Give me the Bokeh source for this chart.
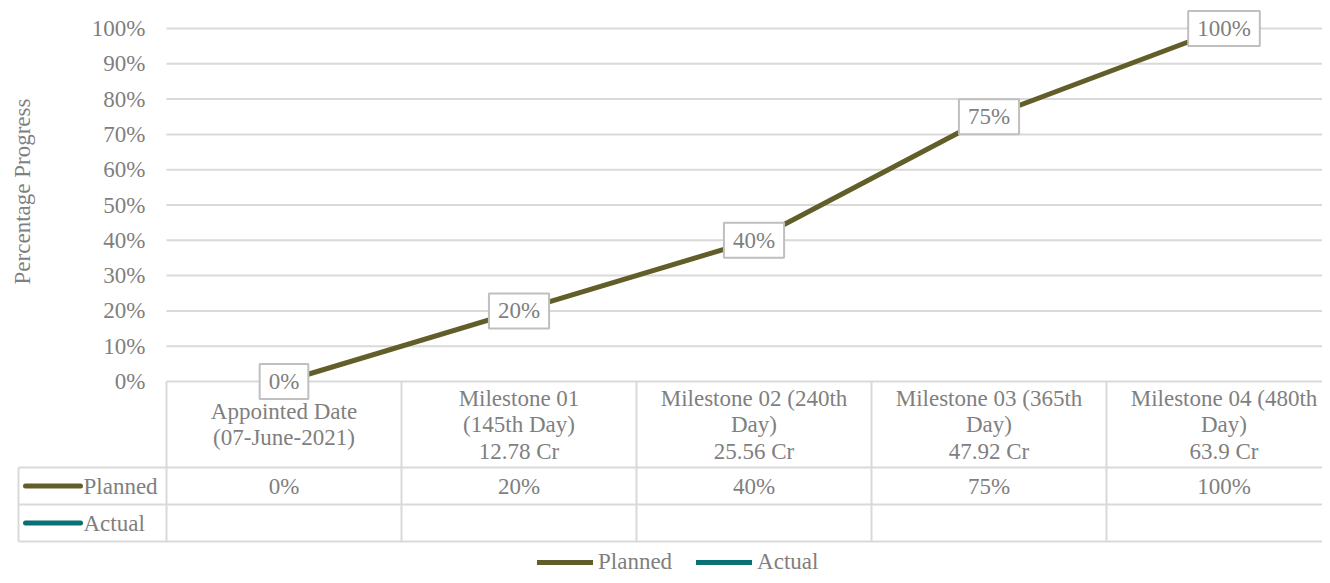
import math
from bokeh.plotting import figure
from bokeh.models import (Range1d, FixedTicker, NumeralTickFormatter, Legend, LegendItem,
                          ColumnDataSource, Label, LinearAxis)
from bokeh.embed import file_html
from bokeh.resources import INLINE
from bokeh.core.properties import value

# ---------------- data ----------------
categories = [
    "Appointed Date\n(07-June-2021)",
    "Milestone 01\n(145th Day)\n12.78 Cr",
    "Milestone 02 (240th\nDay)\n25.56 Cr",
    "Milestone 03 (365th\nDay)\n47.92 Cr",
    "Milestone 04 (480th\nDay)\n63.9 Cr",
]
series_names = ["Planned", "Actual"]
planned = [0.00, 0.20, 0.40, 0.75, 1.00]
actual = [float("nan")] * 5
planned_labels = ["0%", "20%", "40%", "75%", "100%"]
actual_labels = ["", "", "", "", ""]
y_ticks = [0.0, 0.1, 0.2, 0.3, 0.4, 0.5, 0.6, 0.7, 0.8, 0.9, 1.0]
y_title = "Percentage Progress"

# ---------------- style ----------------
FONT = "Liberation Serif"
FS = "23px"
TXT = "#7f7f7f"
GRID = "#d9d9d9"
C_PLAN = "#625e2a"
C_ACT = "#0b6f76"

W, H = 1322, 575
n = len(categories)
xc = [i + 0.5 for i in range(n)]

# layout geometry in canvas pixels
COL, X0 = 235.0, 166.0          # column width, left edge of first column
PPU, Y0 = 353.0, 381.0          # pixels per 100%, canvas y of 0%
def xu(px):
    return (px - X0) / COL
def yu(py):
    return (Y0 - py) / PPU

p = figure(width=W, height=H, output_backend="svg", toolbar_location=None,
           x_range=Range1d(xu(0), xu(W)), y_range=Range1d(yu(H), yu(0)),
           min_border=0, x_axis_location=None, y_axis_location=None)
p.outline_line_color = None
p.background_fill_color = "white"
p.border_fill_color = "white"
p.grid.visible = False

# y axis drawn at the left edge of the first column
ya = LinearAxis(fixed_location=0, ticker=FixedTicker(ticks=y_ticks),
                formatter=NumeralTickFormatter(format="0%"))
ya.axis_line_color = None
ya.major_tick_line_color = None
ya.minor_tick_line_color = None
ya.major_tick_out = 0
ya.major_tick_in = 0
ya.minor_tick_out = 0
ya.major_label_text_font = FONT
ya.major_label_text_font_size = FS
ya.major_label_text_color = TXT
ya.major_label_standoff = 21
p.add_layout(ya, "left")

# horizontal gridlines over the chart columns
p.segment(x0=[0] * len(y_ticks), y0=y_ticks, x1=[n] * len(y_ticks), y1=y_ticks,
          line_color=GRID, line_width=2)

# y-axis title
p.add_layout(Label(x=xu(22), y=yu(191), text=y_title, angle=math.pi / 2,
                   text_font=FONT, text_font_size=FS, text_color=TXT,
                   text_align="center", text_baseline="middle"))

# ---------------- data table under the chart ----------------
HDR_B, ROW1_B, ROW2_B = 467.0, 504.0, 541.0
xl = xu(18)
p.segment(x0=list(range(n + 1)), y0=[0] * (n + 1), x1=list(range(n + 1)),
          y1=[yu(ROW2_B)] * (n + 1), line_color=GRID, line_width=2)
p.segment(x0=[xl, xl, xl, xl], y0=[yu(HDR_B), yu(ROW1_B), yu(ROW2_B), yu(HDR_B)],
          x1=[n, n, n, xl], y1=[yu(HDR_B), yu(ROW1_B), yu(ROW2_B), yu(ROW2_B)],
          line_color=GRID, line_width=2)

p.text(x=xc, y=[yu(424.0)] * n, text=categories, text_font=value(FONT), text_font_size=FS,
       text_color=TXT, text_align="center", text_baseline="middle", text_line_height=1.06)

r1 = yu((HDR_B + ROW1_B) / 2)
r2 = yu((ROW1_B + ROW2_B) / 2)
p.text(x=xc, y=[r1] * n, text=planned_labels, text_font=value(FONT), text_font_size=FS,
       text_color=TXT, text_align="center", text_baseline="middle")
p.text(x=xc, y=[r2] * n, text=actual_labels, text_font=value(FONT), text_font_size=FS,
       text_color=TXT, text_align="center", text_baseline="middle")

# row keys in the first table column
p.segment(x0=[xu(25)] * 2, y0=[r1, r2], x1=[xu(80)] * 2, y1=[r1, r2],
          line_color=[C_PLAN, C_ACT], line_width=5, line_cap="round")
p.text(x=[xu(83)] * 2, y=[r1, r2], text=series_names, text_font=value(FONT),
       text_font_size=FS, text_color=TXT, text_align="left", text_baseline="middle")

# ---------------- series ----------------
rp = p.line(xc, planned, line_color=C_PLAN, line_width=5, line_cap="round", line_join="round")
ra = p.line(xc, actual, line_color=C_ACT, line_width=5, line_cap="round", line_join="round")

src = ColumnDataSource(dict(x=xc, y=planned, t=planned_labels))
p.text(x="x", y="y", text="t", source=src, text_font=value(FONT), text_font_size=FS,
       text_color=TXT, text_align="center", text_baseline="middle",
       background_fill_color="white", border_line_color="#bfbfbf", border_line_width=2,
       padding=(9, 5))

# bottom legend
leg = Legend(items=[LegendItem(label=series_names[0], renderers=[rp]),
                    LegendItem(label=series_names[1], renderers=[ra])],
             orientation="horizontal", location=(537, 0),
             border_line_color=None, background_fill_alpha=0, padding=0, margin=0,
             spacing=24, glyph_width=56, glyph_height=20, label_standoff=5, label_height=20,
             label_text_font=FONT, label_text_font_size=FS, label_text_color=TXT)
p.add_layout(leg, "center")

open("out.html", "w").write(file_html(p, INLINE))
